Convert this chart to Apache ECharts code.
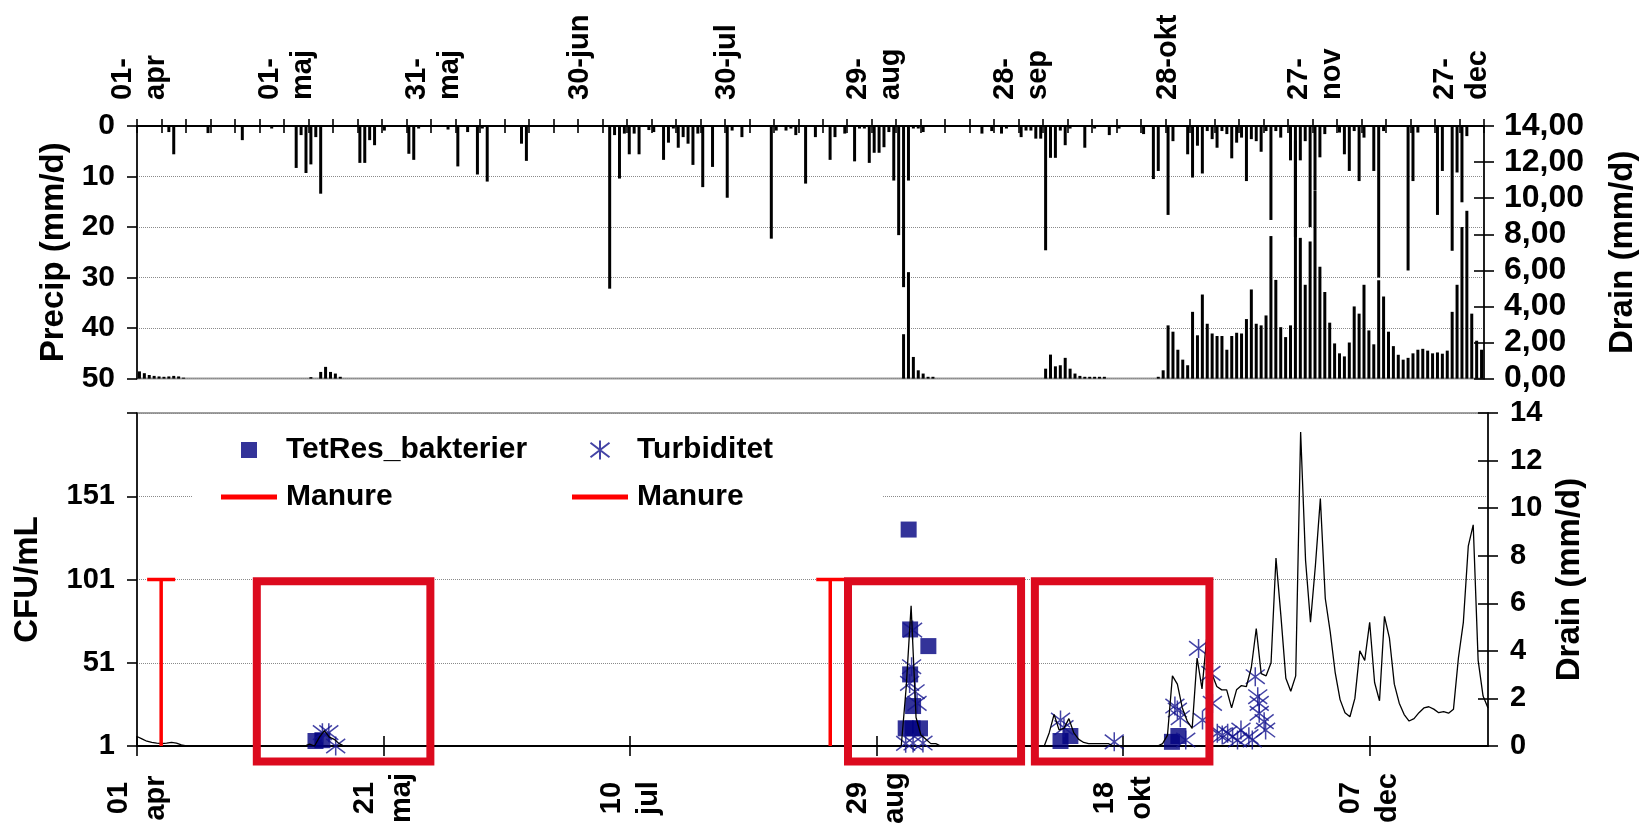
<!DOCTYPE html>
<html><head><meta charset="utf-8">
<script src="https://cdn.jsdelivr.net/npm/echarts@6/dist/echarts.min.js"></script>
<style>html,body{margin:0;padding:0;background:#fff}#c{width:1648px;height:832px}</style>
</head><body><div id="c"></div>
<script>
// ---------- data ----------
const dayCount = 275; // 1 Apr .. 31 Dec, day 0 = 1 Apr
const topTickLabels = ['01-\napr','01-\nmaj','31-\nmaj','30-jun','30-jul','29-\naug','28-\nsep','28-okt','27-\nnov','27-\ndec'];
const bottomTickValues = [0,50,100,150,200,250];
const bottomTickLabels = ['01\napr','21\nmaj','10\njul','29\naug','18\nokt','07\ndec'];
const cfuTickLabels = ['1','51','101','151',''];

// daily precipitation (mm/d), day 0 = 1 Apr
const precip = [
 0,0,0,0,0,0,1.2,5.6,0,0,
 0,0,0,0,1.4,0,0,0,0,0,
 0,2.8,0,0,0,0,0,0.5,0,0,
 0,0,8.3,1.8,9.3,7.6,2.2,13.4,0,0,
 0,0,0,0,0,7.3,7.3,2.8,3.8,0,
 0.9,0,0,0,0,5.5,6.7,0.5,0,0,
 0,0,0,0.7,0,8.0,0,1.2,0,9.6,
 0.5,11.0,0,0,0,0,0,0,3.5,6.9,
 0,0,0,0,0,0,0,0,0,0,
 0,0,0,0,0,0,32.2,1.8,10.4,1.5,
 5.6,1.5,5.6,0,0.8,1.2,0,6.7,3.3,0.5,
 4.3,2.2,3.5,7.7,1.5,12.1,0,8.1,0,0,
 14.2,0.9,0,2.2,0,0,0,0,0,22.3,
 0.9,0,0.9,0.5,1.8,0,11.4,0,2.2,0,
 0,6.7,2.2,0,1.5,0,7.0,0.5,0.5,7.3,
 5.3,5.3,4.2,1.2,10.8,21.6,31.9,10.8,0.5,0.5,
 1.2,0,0,0,0,0,0,0,0,0,
 0,0,1.5,0,1.0,0,1.5,0.5,0,0,
 2.2,0.9,0.9,2.5,2.5,24.6,6.3,6.3,0.9,3.8,
 0.5,0,0,4.3,0,0.5,0,0,1.8,0,
 0.5,0,0,0,0,1.6,0,10.5,8.9,0,
 17.6,3.0,0,0,5.6,10.2,3.9,9.4,1.0,2.6,
 4.3,1.0,1.6,6.4,3.3,2.3,10.9,2.6,3.0,5.1,
 1.0,18.6,1.0,2.3,0,6.8,22,6.8,3.0,20,
 12.8,6.2,1.6,0,0,1.3,5.6,8.9,1.0,10.9,
 2.3,0,8.9,30,1.0,0,0,0,0,28.6,
 10.9,1.3,0,0,0,17.6,8.9,0,24.7,9.2,
 15.1,2.0,0,0,0
];

// daily drain (mm/d), day 0 = 1 Apr
const drain = [
 0.4,0.3,0.2,0.15,0.12,0.1,0.12,0.15,0.12,0.05,
 0,0,0,0,0,0,0,0,0,0,
 0,0,0,0,0,0,0,0,0,0,
 0,0,0,0,0,0.08,0,0.37,0.65,0.37,
 0.28,0.1,0,0,0,0,0,0,0,0,
 0,0,0,0,0,0,0,0,0,0,
 0,0,0,0,0,0,0,0,0,0,
 0,0,0,0,0,0,0,0,0,0,
 0,0,0,0,0,0,0,0,0,0,
 0,0,0,0,0,0,0,0,0,0,
 0,0,0,0,0,0,0,0,0,0,
 0,0,0,0,0,0,0,0,0,0,
 0,0,0,0,0,0,0,0,0,0,
 0,0,0,0,0,0,0,0,0,0,
 0,0,0,0,0,0,0,0,0,0,
 0,0,0,0,0,0,2.46,5.9,1.2,0.46,
 0.28,0.1,0.1,0,0,0,0,0,0,0,
 0,0,0,0,0,0,0,0,0,0,
 0,0,0,0,0,0.55,1.33,0.68,0.74,1.15,
 0.55,0.28,0.15,0.1,0.1,0.1,0.1,0.1,0,0,
 0,0,0,0,0,0,0,0,0.1,0.46,
 2.95,2.6,1.6,1.05,0.74,3.7,2.4,4.66,3.04,2.5,
 2.36,2.36,1.6,2.36,2.54,2.5,3.3,4.94,3.04,2.95,
 3.5,7.9,5.47,2.85,2.3,2.95,13.2,7.8,5.2,7.6,
 10.4,6.2,4.8,3.1,1.95,1.4,1.23,2.0,4.0,3.6,
 5.2,2.67,1.9,5.45,4.55,2.6,1.8,1.32,1.05,1.15,
 1.4,1.6,1.65,1.55,1.4,1.45,1.38,1.55,3.7,5.2,
 8.4,9.3,3.6,2.1,1.6
];

// [day, CFU/mL]
const tetRes = [
 [36.2,4],[37.6,4.5],
 [155.9,11.6],[156.5,131],[156.8,71],[156.8,44],[157.4,25],[157.3,11.6],[158.8,11.6],[160.5,61],
 [187.3,4],[189.3,7],[209.9,3.5],[211.2,7]
];
// [day, value]
const turbiditet = [
 [37.6,9],[38.9,9],[40.3,1],
 [155.9,2.6],[156.7,38.6],[157.1,48.6],[157.3,70.6],[157.4,2.8],[157.8,33.6],[158.2,26.6],[159.4,2.8],[160.9,0.6],
 [187.3,16.6],[188.0,12],[198.2,3.5],
 [210.5,25],[211.0,22.6],[211.6,18],[212.7,4.6],[214.0,0.6],[215.3,59.6],[216.1,16.6],[217.8,44.6],[218.1,26.6],
 [219.1,8.6],[220.1,7.6],[221.2,8.6],[222.2,6.6],[223.2,4.6],[223.9,10.6],[225.5,6.6],[226.2,4.6],[226.8,42.6],
 [227.3,30.6],[227.6,26.6],[227.6,20.6],[228.6,15.6],[228.9,10.6]
];
// manure application: [day, low CFU, high CFU]
const manure1 = [[4.9,1,101]];
const manure2 = [[140.6,1,101]];
// highlighted periods: [dayFrom, dayTo, cfuLow, cfuHigh]
const highlightBoxes = [[24.3,59.5,-8.3,100],[144.2,179.3,-8.3,100],[182.1,217.5,-8.3,100]];

// ---------- chart ----------
const FONT = "'Liberation Sans', Arial, Helvetica, sans-serif";
const cfuBase = 1; // CFU axis starts at 1
const categories = Array.from({length: dayCount}, (_, i) => 'd' + i);
const lbl = (o) => Object.assign({color:'#000', fontFamily:FONT, fontWeight:'bold', fontSize:29}, o);
const nameStyle = {color:'#000', fontFamily:FONT, fontWeight:'bold', fontSize:33};
const blackLine = {color:'#000', width:1.6};
const starPath = 'path://M5,0L5,10M0,1.2L10,8.8M10,1.2L0,8.8';
const manureIcon = 'path://M0,0L56,0L56,5L0,5Z';
const squareIcon = 'path://M0,0L10,0L10,10L0,10Z';

const legendText = {color:'#000', fontFamily:FONT, fontWeight:'bold', fontSize:30, padding:[0,0,0,4]};

const chart = echarts.init(document.getElementById('c'), null, {renderer:'canvas'});
chart.setOption({
  animation:false,
  backgroundColor:'#fff',
  grid:[
    {left:137, top:126, width:1347, height:252.6, show:true, borderColor:'#9b9b9b', borderWidth:2, outerBoundsMode:'none', containLabel:false},
    {left:137, top:413, width:1351, height:333, show:true, borderColor:'#a0a0a0', borderWidth:2, outerBoundsMode:'none', containLabel:false}
  ],
  xAxis:[
    {type:'category', gridIndex:0, position:'top', data:categories, boundaryGap:true,
     axisLine:{show:true, onZero:false, lineStyle:{color:'#000', width:2}},
     axisTick:{show:true, interval:4, length:7, lineStyle:blackLine},
     axisLabel:lbl({interval:29, rotate:-90, margin:26, lineHeight:33,
       formatter:(v,i)=> (i % 30 === 0 && topTickLabels[i/30]) ? topTickLabels[i/30] : ''}),
     splitLine:{show:false}},
    {type:'category', gridIndex:0, position:'top', data:categories, boundaryGap:true,
     axisLine:{show:false, onZero:false}, axisLabel:{show:false}, splitLine:{show:false},
     axisTick:{show:true, inside:true, interval:4, length:7, lineStyle:blackLine}},
    {type:'value', gridIndex:1, position:'bottom', min:0, max:dayCount-1, interval:50,
     axisLine:{show:true, onZero:false, lineStyle:{color:'#000', width:2}},
     axisTick:{show:true, length:10, customValues:bottomTickValues, lineStyle:blackLine},
     axisLabel:lbl({customValues:bottomTickValues, rotate:90, align:'center', verticalAlign:'middle', margin:52, lineHeight:37,
       formatter:(v)=>{const k = bottomTickValues.indexOf(v); return k >= 0 ? bottomTickLabels[k] : '';}}),
     splitLine:{show:false}},
    {type:'value', gridIndex:1, position:'bottom', min:0, max:dayCount-1, interval:50,
     axisLine:{show:false, onZero:false}, axisLabel:{show:false}, splitLine:{show:false},
     axisTick:{show:true, inside:true, length:10, customValues:bottomTickValues, lineStyle:blackLine}}
  ],
  yAxis:[
    {type:'value', gridIndex:0, position:'left', inverse:true, min:0, max:50, interval:10,
     name:'Precip (mm/d)', nameLocation:'middle', nameGap:65, nameTextStyle:nameStyle,
     axisLine:{show:true, onZero:false, lineStyle:blackLine},
     axisTick:{show:true, length:10, lineStyle:blackLine},
     axisLabel:lbl({margin:22, fontSize:30}),
     splitLine:{show:true, lineStyle:{type:'dotted', color:'#8a8a8a', width:1}}},
    {type:'value', gridIndex:0, position:'right', min:0, max:14, interval:2,
     name:'Drain (mm/d)', nameLocation:'middle', nameGap:122, nameTextStyle:nameStyle,
     axisLine:{show:true, onZero:false, lineStyle:blackLine},
     axisTick:{show:true, length:10, lineStyle:blackLine},
     axisLabel:lbl({margin:20, fontSize:32, formatter:(v)=>v.toFixed(2).replace('.', ',')}),
     splitLine:{show:false}},
    {type:'value', gridIndex:0, position:'right', min:0, max:14, interval:2,
     axisLine:{show:false, onZero:false}, axisLabel:{show:false}, splitLine:{show:false},
     axisTick:{show:true, inside:true, length:10, lineStyle:blackLine}},
    {type:'value', gridIndex:1, position:'left', min:0, max:200, interval:50,
     name:'CFU/mL', nameLocation:'middle', nameGap:93, nameTextStyle:nameStyle,
     axisLine:{show:true, onZero:false, lineStyle:blackLine},
     axisTick:{show:true, length:10, lineStyle:blackLine},
     axisLabel:lbl({margin:22, formatter:(v)=>cfuTickLabels[Math.round(v/50)] || ''}),
     splitLine:{show:true, lineStyle:{type:'dotted', color:'#8a8a8a', width:1}}},
    {type:'value', gridIndex:1, position:'right', min:0, max:14, interval:2,
     name:'Drain (mm/d)', nameLocation:'middle', nameGap:58, nameTextStyle:nameStyle,
     axisLine:{show:true, onZero:false, lineStyle:blackLine},
     axisTick:{show:true, length:10, lineStyle:blackLine},
     axisLabel:lbl({margin:22}),
     splitLine:{show:false}},
    {type:'value', gridIndex:1, position:'right', min:0, max:14, interval:2,
     axisLine:{show:false, onZero:false}, axisLabel:{show:false}, splitLine:{show:false},
     axisTick:{show:true, inside:true, length:10, lineStyle:blackLine}}
  ],
  legend:[
    {data:[{name:'TetRes_bakterier', icon:squareIcon}, {name:'Manure', icon:manureIcon}], orient:'vertical', left:193, top:424,
     padding:[11,70,11,28], itemWidth:56, itemHeight:16, itemGap:17, backgroundColor:'#fff', selectedMode:false,
     textStyle:legendText},
    {data:['Turbiditet', {name:'Manure ', icon:manureIcon}], orient:'vertical', left:552, top:424,
     padding:[11,110,11,20], itemWidth:56, itemHeight:19, itemGap:17, backgroundColor:'#fff', selectedMode:false,
     textStyle:legendText}
  ],
  series:[
    {name:'Precip', type:'bar', xAxisIndex:0, yAxisIndex:0, data:precip, barWidth:3, barGap:'-100%',
     itemStyle:{color:'#000'}, z:2},
    {name:'DrainBar', type:'bar', xAxisIndex:0, yAxisIndex:1, data:drain, barWidth:3, barGap:'-100%',
     itemStyle:{color:'#000'}, z:2},
    {name:'TetRes_bakterier', type:'scatter', xAxisIndex:2, yAxisIndex:3,
     data:tetRes.map(([d,c]) => [d, c - cfuBase]), symbol:'rect', symbolSize:16,
     itemStyle:{color:'#000080'}, z:3},
    {name:'Turbiditet', type:'scatter', xAxisIndex:2, yAxisIndex:3,
     data:turbiditet.map(([d,c]) => [d, c - cfuBase]), symbol:starPath, symbolSize:19, symbolKeepAspect:true,
     itemStyle:{color:'rgba(0,0,0,0)', borderColor:'#14148f', borderWidth:1.5}, z:3},
    {name:'DrainLine', type:'line', xAxisIndex:2, yAxisIndex:4,
     data:drain.map((v,i) => [i, v]), showSymbol:false, symbol:'none',
     lineStyle:{color:'#000', width:1.3}, z:4},
    {name:'Manure', type:'custom', xAxisIndex:2, yAxisIndex:3, itemStyle:{color:'#ff0000'},
     data:manure1.map(([d,lo,hi]) => [d, lo - cfuBase, hi - cfuBase]), encode:{x:0, y:[1,2]}, z:5,
     renderItem:(params, api) => {
       const b = api.coord([api.value(0), api.value(1)]);
       const t = api.coord([api.value(0), api.value(2)]);
       return {type:'group', children:[
         {type:'line', shape:{x1:b[0], y1:b[1], x2:t[0], y2:t[1]}, style:{stroke:'#ff0000', lineWidth:3.5}},
         {type:'line', shape:{x1:t[0]-14, y1:t[1], x2:t[0]+14, y2:t[1]}, style:{stroke:'#ff0000', lineWidth:3.5}}
       ]};
     }},
    {name:'Manure ', type:'custom', xAxisIndex:2, yAxisIndex:3, itemStyle:{color:'#ff0000'},
     data:manure2.map(([d,lo,hi]) => [d, lo - cfuBase, hi - cfuBase]), encode:{x:0, y:[1,2]}, z:5,
     renderItem:(params, api) => {
       const b = api.coord([api.value(0), api.value(1)]);
       const t = api.coord([api.value(0), api.value(2)]);
       return {type:'group', children:[
         {type:'line', shape:{x1:b[0], y1:b[1], x2:t[0], y2:t[1]}, style:{stroke:'#ff0000', lineWidth:3.5}},
         {type:'line', shape:{x1:t[0]-14, y1:t[1], x2:t[0]+14, y2:t[1]}, style:{stroke:'#ff0000', lineWidth:3.5}}
       ]};
     }},
    {name:'Boxes', type:'custom', xAxisIndex:2, yAxisIndex:3, silent:true, clip:false,
     data:highlightBoxes.map(([x0,x1,y0,y1]) => [x0, x1, y0 - cfuBase, y1 - cfuBase]), encode:{x:[0,1], y:[2,3]}, z:6,
     renderItem:(params, api) => {
       const p0 = api.coord([api.value(0), api.value(3)]);
       const p1 = api.coord([api.value(1), api.value(2)]);
       return {type:'rect', shape:{x:p0[0], y:p0[1], width:p1[0]-p0[0], height:p1[1]-p0[1]},
               style:{fill:'none', stroke:'#dc0a1e', lineWidth:8}};
     }}
  ]
});
</script>
</body></html>
